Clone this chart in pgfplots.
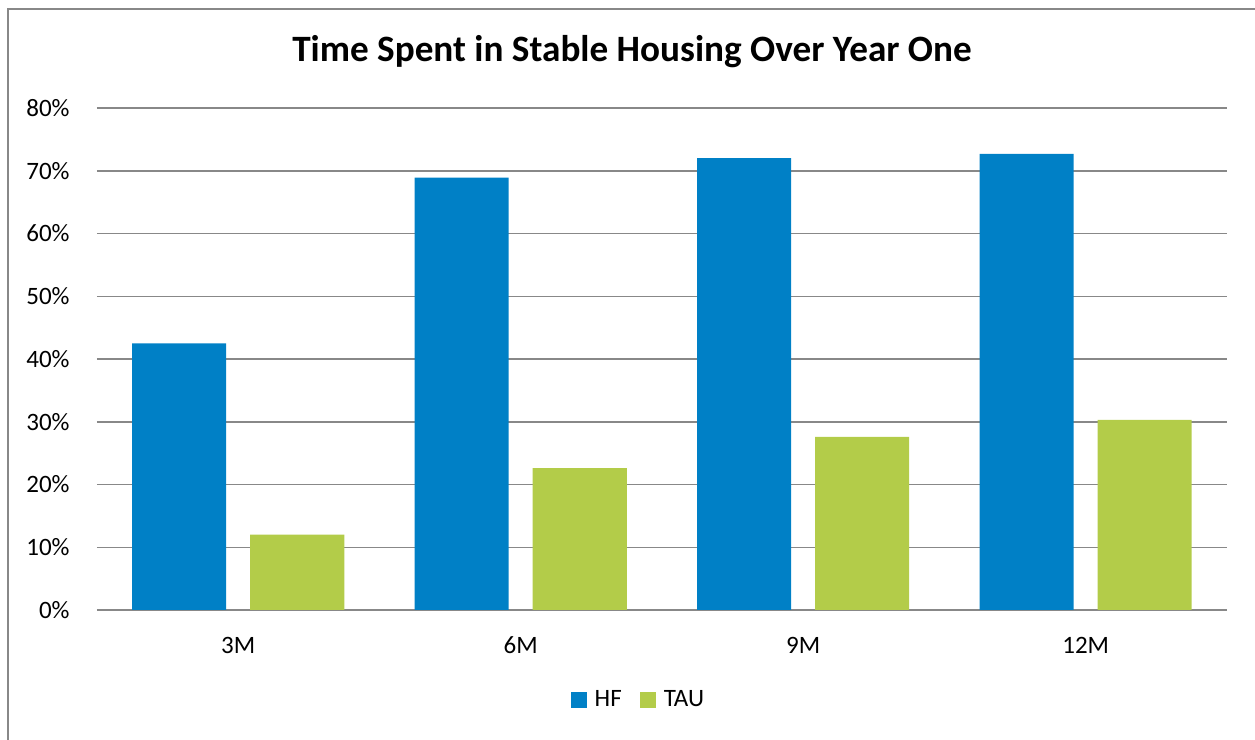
\documentclass[border=0pt]{standalone}
\usepackage{pgfplots}
\pgfplotsset{compat=1.18}
\usepackage{fontspec}
\setmainfont{Carlito}
\definecolor{hfblue}{HTML}{0080C6}
\definecolor{taugreen}{HTML}{B3CC49}
\definecolor{gridgray}{HTML}{888888}
\pgfplotsset{sqlegend/.style={legend image code/.code={\fill[##1, draw=none] (0pt,-4pt) rectangle (8pt,4pt);}}}
\begin{document}
\begin{tikzpicture}
\path[use as bounding box] (0,0) rectangle (627.5pt,370pt);
\draw[gridgray, line width=1pt] (4pt,0) -- (4pt,365.5pt) -- (627.5pt,365.5pt);
\node[font=\fontsize{18.6}{22}\selectfont\bfseries] at (316pt,344pt) {Time Spent in Stable Housing Over Year One};

\begin{axis}[
    at={(48.5pt,65pt)}, anchor=south west,
    scale only axis, width=565pt, height=251pt,
    ybar=12pt, bar width=47pt,
    xmin=-0.5, xmax=3.5,
    ymin=0, ymax=80,
    ytick={0,10,20,30,40,50,60,70,80},
    yticklabel={\pgfmathprintnumber{\tick}\%},
    xtick=data,
    xticklabels={3M,6M,9M,12M},
    major tick length=0pt,
    axis line style={draw=none},
    ymajorgrids=true,
    grid style={gridgray, line width=0.75pt},
    /pgf/number format/assume math mode=true,
    tick label style={font=\fontsize{12.5}{15}\selectfont},
    yticklabel style={anchor=east, inner sep=0pt, xshift=-13.5pt},
    xticklabel style={anchor=center, inner sep=0pt, yshift=-17.5pt},
    legend style={at={(0.480,-0.179)}, anchor=center, draw=none, fill=none,
        legend columns=2, font=\fontsize{12.5}{15}\selectfont,
        /tikz/every odd column/.append style={column sep=2pt},
        /tikz/every even column/.append style={column sep=7pt}},
]
\addplot[fill=hfblue, draw=none, sqlegend] coordinates {(0,42.5) (1,68.9) (2,72.0) (3,72.7)};
\addplot[fill=taugreen, draw=none, sqlegend] coordinates {(0,12.0) (1,22.6) (2,27.6) (3,30.3)};
\legend{HF,TAU}
\end{axis}
\end{tikzpicture}
\end{document}
